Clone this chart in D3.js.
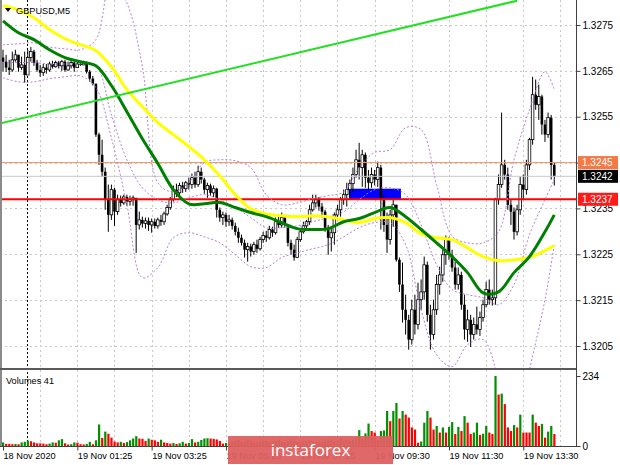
<!DOCTYPE html>
<html><head><meta charset="utf-8">
<script src="https://cdn.jsdelivr.net/npm/d3@7"></script>
<style>
html,body{margin:0;padding:0;background:#fff;}
svg{display:block;font-family:"Liberation Sans",Arial,sans-serif;}
</style></head><body>
<svg id="c" width="620" height="465"></svg>
<script>
// ---------- DATA ----------
const symbolLabel = "GBPUSD,M5";
const volumeLabel = "Volumes 41";
const watermark = "instaforex";
const firstOpen = 1.32679;
const closes = [1.32670,1.32657,1.32652,1.32674,1.32685,1.32657,1.32663,1.32641,1.32679,1.32692,
1.32668,1.32652,1.32646,1.32657,1.32652,1.32665,1.32659,1.32668,1.32661,1.32670,
1.32652,1.32661,1.32668,1.32657,1.32665,1.32663,1.32668,1.32648,1.32633,1.32622,
1.32511,1.32467,1.32430,1.32369,1.32336,1.32391,1.32343,1.32369,1.32362,1.32375,
1.32365,1.32369,1.32373,1.32314,1.32325,1.32317,1.32323,1.32314,1.32321,1.32312,
1.32325,1.32321,1.32338,1.32352,1.32369,1.32391,1.32384,1.32400,1.32393,1.32406,
1.32402,1.32417,1.32402,1.32430,1.32413,1.32391,1.32400,1.32384,1.32393,1.32347,
1.32330,1.32336,1.32321,1.32325,1.32312,1.32299,1.32286,1.32275,1.32260,1.32267,
1.32256,1.32271,1.32262,1.32282,1.32291,1.32286,1.32304,1.32297,1.32321,1.32314,
1.32330,1.32314,1.32275,1.32260,1.32243,1.32282,1.32299,1.32312,1.32321,1.32347,
1.32362,1.32369,1.32354,1.32343,1.32308,1.32286,1.32297,1.32336,1.32347,1.32369,
1.32380,1.32391,1.32404,1.32424,1.32456,1.32439,1.32467,1.32417,1.32406,1.32424,
1.32413,1.32439,1.32369,1.32314,1.32282,1.32336,1.32358,1.32238,1.32184,1.32129,
1.32107,1.32064,1.32129,1.32097,1.32151,1.32168,1.32227,1.32118,1.32075,1.32129,
1.32184,1.32205,1.32249,1.32282,1.32249,1.32221,1.32184,1.32205,1.32140,1.32086,
1.32107,1.32075,1.32097,1.32086,1.32112,1.32140,1.32173,1.32151,1.32155,1.32369,
1.32402,1.32445,1.32424,1.32358,1.32343,1.32299,1.32347,1.32402,1.32391,1.32445,
1.32500,1.32598,1.32576,1.32594,1.32533,1.32511,1.32548,1.32445,1.32421];
const highs = [1.32696,1.32685,1.32674,1.32692,1.32696,1.32685,1.32681,1.32692,1.32696,1.32702,
1.32696,1.32674,1.32663,1.32665,1.32665,1.32670,1.32672,1.32672,1.32672,1.32674,
1.32674,1.32670,1.32672,1.32670,1.32672,1.32670,1.32672,1.32670,1.32652,1.32639,
1.32622,1.32515,1.32500,1.32439,1.32402,1.32402,1.32395,1.32380,1.32378,1.32380,
1.32380,1.32378,1.32378,1.32358,1.32343,1.32332,1.32330,1.32330,1.32328,1.32328,
1.32330,1.32336,1.32343,1.32358,1.32375,1.32400,1.32404,1.32406,1.32408,1.32410,
1.32417,1.32426,1.32430,1.32443,1.32439,1.32417,1.32406,1.32404,1.32400,1.32395,
1.32352,1.32343,1.32341,1.32336,1.32330,1.32319,1.32308,1.32293,1.32282,1.32275,
1.32273,1.32277,1.32282,1.32288,1.32299,1.32301,1.32312,1.32310,1.32330,1.32338,
1.32341,1.32336,1.32314,1.32282,1.32271,1.32288,1.32304,1.32321,1.32325,1.32358,
1.32380,1.32380,1.32375,1.32362,1.32347,1.32314,1.32308,1.32341,1.32358,1.32375,
1.32391,1.32406,1.32413,1.32439,1.32478,1.32493,1.32478,1.32472,1.32434,1.32439,
1.32434,1.32452,1.32445,1.32380,1.32341,1.32347,1.32375,1.32358,1.32243,1.32232,
1.32162,1.32118,1.32151,1.32162,1.32188,1.32195,1.32245,1.32234,1.32140,1.32151,
1.32205,1.32223,1.32260,1.32291,1.32288,1.32260,1.32234,1.32221,1.32212,1.32162,
1.32129,1.32118,1.32112,1.32136,1.32125,1.32151,1.32190,1.32195,1.32173,1.32373,
1.32424,1.32559,1.32456,1.32439,1.32369,1.32352,1.32358,1.32419,1.32424,1.32456,
1.32504,1.32637,1.32631,1.32620,1.32598,1.32543,1.32559,1.32554,1.32450];
const lows = [1.32648,1.32648,1.32641,1.32648,1.32670,1.32648,1.32652,1.32624,1.32641,1.32670,
1.32661,1.32648,1.32637,1.32639,1.32644,1.32648,1.32655,1.32657,1.32655,1.32650,
1.32648,1.32650,1.32655,1.32648,1.32661,1.32661,1.32663,1.32644,1.32626,1.32618,
1.32506,1.32445,1.32419,1.32347,1.32299,1.32325,1.32312,1.32336,1.32354,1.32358,
1.32356,1.32356,1.32356,1.32253,1.32304,1.32308,1.32306,1.32301,1.32297,1.32306,
1.32306,1.32312,1.32314,1.32334,1.32347,1.32365,1.32375,1.32378,1.32384,1.32386,
1.32391,1.32393,1.32395,1.32397,1.32404,1.32382,1.32373,1.32378,1.32375,1.32330,
1.32321,1.32314,1.32310,1.32312,1.32304,1.32291,1.32275,1.32269,1.32243,1.32234,
1.32245,1.32249,1.32253,1.32258,1.32275,1.32277,1.32282,1.32288,1.32293,1.32308,
1.32308,1.32308,1.32267,1.32249,1.32236,1.32243,1.32277,1.32295,1.32304,1.32314,
1.32343,1.32352,1.32345,1.32330,1.32299,1.32249,1.32256,1.32271,1.32325,1.32332,
1.32358,1.32354,1.32373,1.32386,1.32417,1.32413,1.32397,1.32395,1.32391,1.32395,
1.32400,1.32397,1.32304,1.32299,1.32253,1.32271,1.32310,1.32234,1.32168,1.32101,
1.32075,1.32042,1.32053,1.32075,1.32086,1.32129,1.32151,1.32103,1.32042,1.32064,
1.32118,1.32162,1.32190,1.32227,1.32238,1.32212,1.32173,1.32173,1.32129,1.32064,
1.32059,1.32048,1.32064,1.32075,1.32072,1.32103,1.32134,1.32140,1.32138,1.32140,
1.32358,1.32395,1.32413,1.32347,1.32314,1.32282,1.32291,1.32336,1.32369,1.32380,
1.32434,1.32489,1.32565,1.32543,1.32511,1.32495,1.32504,1.32413,1.32400];
const volumes = [12,7,7,6,7,6,12,14,18,16, 12,9,9,8,6,8,12,11,19,23,
9,5,6,12,11,6,5,7,14,6, 19,72,27,48,41,28,15,12,14,10,
13,19,25,33,25,24,17,25,21,19, 14,21,12,10,8,10,7,9,14,8,
10,23,12,14,20,25,26,25,24,22, 17,8,10,
12,15,18,20,14,16,22,18,15,12, 14,16,18,13,15,17,20,14,12,18,
22,16,14,12,15,18,20,16,13,15, 14,18,22,19,16,20,24,18,21,17, 20,24,
53,22,42,75,50,45,20,
50,52,117,83,117,144,92,117,105,95,62,55,11,15,78,117,95,55,67,45,62,45,64,80,40,64,50,100,78,40,45,78,37,41,67,45,40,234,
172,175,140,62,50,70,62,105,45,45,45,105,78,67,74,28,48,67,40];

const timeTickIndex = [0,24,48,72,96,120,144,168];
const timeTickLabels = ["18 Nov 2020","19 Nov 01:25","19 Nov 03:25","19 Nov 05:25","19 Nov 07:25","19 Nov 09:30","19 Nov 11:30","19 Nov 13:30"];
const priceTicks = [1.3275,1.3265,1.3255,1.3245,1.3235,1.3225,1.3215,1.3205];
const volumeTicks = [0,234];
const daySeparatorIndex = 7.75;

// indicator lines, sampled at bar indices
const sampleIndex = [0,5,10,15,20,25,30,35,40,45,50,55,60,65,70,75,80,85,90,95,100,105,110,115,120,125,130,135,140,145,150,155,160,165,170,175,178];
const maYellow = [1.32792,1.32783,1.32766,1.32740,1.32720,1.32707,1.32694,1.32659,1.32609,1.32572,1.32537,1.32511,1.32485,1.32456,1.32421,1.32380,1.32349,1.32338,1.32334,1.32332,1.32334,1.32332,1.32325,1.32319,1.32328,1.32330,1.32319,1.32295,1.32286,1.32282,1.32264,1.32245,1.32236,1.32238,1.32243,1.32258,1.32269];
const maGreen = [1.32759,1.32733,1.32718,1.32696,1.32679,1.32670,1.32661,1.32618,1.32561,1.32502,1.32448,1.32391,1.32360,1.32360,1.32363,1.32352,1.32341,1.32332,1.32319,1.32306,1.32304,1.32306,1.32321,1.32328,1.32341,1.32352,1.32332,1.32304,1.32275,1.32245,1.32210,1.32166,1.32168,1.32210,1.32245,1.32299,1.32336];
const bandUpper = [1.32707,1.32709,1.32711,1.32702,1.32698,1.32696,1.32718,1.32849,1.32798,1.32659,1.32406,1.32386,1.32406,1.32450,1.32456,1.32454,1.32439,1.32380,1.32358,1.32362,1.32371,1.32378,1.32386,1.32439,1.32472,1.32478,1.32526,1.32522,1.32402,1.32290,1.32275,1.32275,1.32299,1.32456,1.32565,1.32648,1.32609];
const bandMiddle = [1.32668,1.32668,1.32668,1.32665,1.32665,1.32665,1.32661,1.32554,1.32456,1.32395,1.32369,1.32362,1.32373,1.32380,1.32369,1.32352,1.32330,1.32308,1.32308,1.32312,1.32321,1.32330,1.32343,1.32369,1.32391,1.32395,1.32380,1.32314,1.32227,1.32173,1.32162,1.32155,1.32140,1.32184,1.32293,1.32369,1.32413];
const bandLower = [1.32635,1.32626,1.32626,1.32633,1.32637,1.32639,1.32613,1.32504,1.32358,1.32199,1.32221,1.32286,1.32297,1.32288,1.32275,1.32249,1.32223,1.32221,1.32243,1.32253,1.32262,1.32271,1.32288,1.32308,1.32319,1.32319,1.32271,1.32129,1.32031,1.32005,1.32053,1.32064,1.31977,1.31846,1.31998,1.32151,1.32271];

const trendIndex = [-1, 166];
const trendPrice = [1.32535, 1.32803];
const zoneIndex = [111.7, 128.5];
const zonePrice = [1.32369, 1.32393];
const levelPrices = [1.3245, 1.3242, 1.3237];
const levelColors = ["#f5956a", "#c8c8c8", "#ff0000"];
const levelBoxColors = ["#f47a45", "#000000", "#ff1a1a"];

// ---------- LAYOUT ----------
const svg = d3.select("#c");
const plotL = 0, plotR = 576, mainT = 0, mainB = 368, volT = 371, volB = 446;
const x = d3.scaleLinear().domain([0, 178]).range([3, 3 + 178 * 3.097]);
const y = d3.scaleLinear().domain([1.32002, 1.328045]).range([mainB, mainT]);
const yv = d3.scaleLinear().domain([0, 234]).range([volB, 376]);

svg.append("rect").attr("width", 620).attr("height", 465).attr("fill", "#fff");

const defs = svg.append("defs");
defs.append("clipPath").attr("id", "mainClip").append("rect")
  .attr("x", 2).attr("y", mainT).attr("width", plotR - 2).attr("height", mainB - mainT);
defs.append("clipPath").attr("id", "volClip").append("rect")
  .attr("x", 2).attr("y", volT).attr("width", plotR - 2).attr("height", volB - volT);

// grid
const grid = svg.append("g");
const gridIdx = d3.range(12, 181, 12);
grid.selectAll("line.vg").data(gridIdx).join("line")
  .attr("x1", d => Math.round(x(d)) + 0.5).attr("x2", d => Math.round(x(d)) + 0.5)
  .attr("y1", mainT).attr("y2", volB)
  .attr("stroke", "#c8c8c8").attr("stroke-dasharray", "2,3");
grid.selectAll("line.hg").data(priceTicks).join("line")
  .attr("x1", plotL).attr("x2", plotR)
  .attr("y1", d => Math.round(y(d)) + 0.5).attr("y2", d => Math.round(y(d)) + 0.5)
  .attr("stroke", "#c8c8c8").attr("stroke-dasharray", "2,3");
// day separator
grid.append("line")
  .attr("x1", Math.round(x(daySeparatorIndex)) + 0.5).attr("x2", Math.round(x(daySeparatorIndex)) + 0.5)
  .attr("y1", mainT).attr("y2", volB)
  .attr("stroke", "#000").attr("stroke-dasharray", "2,2");

const main = svg.append("g").attr("clip-path", "url(#mainClip)");

// zone rectangle
main.append("rect")
  .attr("x", x(zoneIndex[0])).attr("width", x(zoneIndex[1]) - x(zoneIndex[0]))
  .attr("y", y(zonePrice[1])).attr("height", y(zonePrice[0]) - y(zonePrice[1]))
  .attr("fill", "#0000ff");

// candles
const candles = closes.map((c, i) => {
  const o = i === 0 ? firstOpen : closes[i - 1];
  return { i, o, c, h: Math.max(highs[i], o, c), l: Math.min(lows[i], o, c) };
});
const cg = main.append("g");
cg.selectAll("line.w").data(candles).join("line")
  .attr("x1", d => x(d.i)).attr("x2", d => x(d.i))
  .attr("y1", d => y(d.h)).attr("y2", d => y(d.l))
  .attr("stroke", "#000").attr("stroke-width", 1);
cg.selectAll("rect.b").data(candles).join("rect")
  .attr("x", d => x(d.i) - 1.3).attr("width", 2.6)
  .attr("y", d => y(Math.max(d.o, d.c)))
  .attr("height", d => Math.max(1, Math.abs(y(d.o) - y(d.c))))
  .attr("fill", d => d.c > d.o ? "#fff" : "#000")
  .attr("stroke", "#000").attr("stroke-width", d => d.c > d.o ? 0.8 : 0);

// horizontal levels
main.selectAll("line.lv").data(levelPrices).join("line")
  .attr("x1", plotL).attr("x2", plotR)
  .attr("y1", d => y(d)).attr("y2", d => y(d))
  .attr("stroke", (d, k) => levelColors[k])
  .attr("stroke-width", (d, k) => k === 2 ? 2 : 1);

// indicators
const curve = d3.line().x(d => x(d.i)).y(d => y(d.p)).curve(d3.curveCatmullRom.alpha(0.5));
const pts = arr => sampleIndex.map((s, k) => ({ i: s, p: arr[k] }));
[bandUpper, bandMiddle, bandLower].forEach(b => {
  main.append("path").attr("d", curve(pts(b))).attr("fill", "none")
    .attr("stroke", "#b57ede").attr("stroke-width", 1).attr("stroke-dasharray", "2,2");
});
main.append("path").attr("d", curve(pts(maYellow))).attr("fill", "none")
  .attr("stroke", "#ffff00").attr("stroke-width", 3);
main.append("path").attr("d", curve(pts(maGreen))).attr("fill", "none")
  .attr("stroke", "#008000").attr("stroke-width", 3);
main.append("line")
  .attr("x1", x(trendIndex[0])).attr("y1", y(trendPrice[0]))
  .attr("x2", x(trendIndex[1])).attr("y2", y(trendPrice[1]))
  .attr("stroke", "#22e022").attr("stroke-width", 2);

// volumes
const vg = svg.append("g").attr("clip-path", "url(#volClip)");
vg.selectAll("rect").data(volumes).join("rect")
  .attr("x", (d, i) => x(i) - 1).attr("width", 2.2)
  .attr("y", d => yv(d)).attr("height", d => volB - yv(d))
  .attr("fill", (d, i) => (i === 0 || d > volumes[i - 1]) ? "#009000" : "#ff0000");

// frames
svg.append("line").attr("x1", 1).attr("x2", 1).attr("y1", 0).attr("y2", volB + 1).attr("stroke", "#8a8a8a").attr("stroke-width", 2);
svg.append("line").attr("x1", plotL).attr("x2", plotR + 1).attr("y1", mainB + 1).attr("y2", mainB + 1).attr("stroke", "#5a5a5a").attr("stroke-width", 2);
svg.append("line").attr("x1", plotL).attr("x2", plotR + 1).attr("y1", volB + 0.5).attr("y2", volB + 0.5).attr("stroke", "#404040");
svg.append("line").attr("x1", plotR + 0.5).attr("x2", plotR + 0.5).attr("y1", 0).attr("y2", volB + 1).attr("stroke", "#404040");

// price axis
const pa = svg.append("g").attr("transform", `translate(${plotR + 0.5},0)`)
  .call(d3.axisRight(y).tickValues(priceTicks).tickFormat(d3.format(".4f")).tickSize(4).tickPadding(2));
pa.select(".domain").remove();
pa.selectAll("line").attr("stroke", "#404040");
pa.selectAll("text").attr("font-size", 10).attr("font-family", "Liberation Sans, Arial").attr("fill", "#000");

// volume axis
const va = svg.append("g").attr("transform", `translate(${plotR + 0.5},0)`)
  .call(d3.axisRight(yv).tickValues(volumeTicks).tickFormat(d3.format("d")).tickSize(4).tickPadding(2));
va.select(".domain").remove();
va.selectAll("line").attr("stroke", "#404040");
va.selectAll("text").attr("font-size", 10).attr("font-family", "Liberation Sans, Arial").attr("fill", "#000");

// level boxes
levelPrices.forEach((p, k) => {
  const g = svg.append("g").attr("transform", `translate(${plotR + 2},${y(p)})`);
  g.append("rect").attr("x", 0).attr("y", -6.5).attr("width", 40).attr("height", 13).attr("fill", levelBoxColors[k]);
  g.append("text").attr("x", 4).attr("y", 3.6).attr("font-size", 10).attr("fill", "#fff").text(d3.format(".4f")(p));
});

// time axis
const ta = svg.append("g").attr("transform", `translate(0,${volB + 0.5})`)
  .call(d3.axisBottom(x).tickValues(timeTickIndex).tickFormat((d, k) => timeTickLabels[k]).tickSize(4).tickPadding(2));
ta.select(".domain").remove();
ta.selectAll("line").attr("stroke", "#404040");
ta.selectAll("text").attr("text-anchor", "start").attr("font-size", 9.2).attr("font-family", "Liberation Sans, Arial").attr("fill", "#000").attr("dy", "0.75em");

// labels
svg.append("path").attr("d", "M5,8 L11,8 L8,12 Z").attr("fill", "#000");
svg.append("text").attr("x", 16).attr("y", 13.5).attr("font-size", 9.2).attr("fill", "#000").text(symbolLabel);
svg.append("text").attr("x", 6).attr("y", 384).attr("font-size", 9.2).attr("fill", "#000").text(volumeLabel);

// watermark
svg.append("rect").attr("x", 228).attr("y", 436).attr("width", 165).attr("height", 28).attr("fill", "rgb(222,96,96)").attr("opacity", 0.95);
svg.append("text").attr("x", 310.5).attr("y", 456).attr("text-anchor", "middle")
  .attr("font-family", "Open Sans, Liberation Sans, sans-serif").attr("font-size", 17).attr("fill", "#fff").text(watermark);
</script>
</body></html>
